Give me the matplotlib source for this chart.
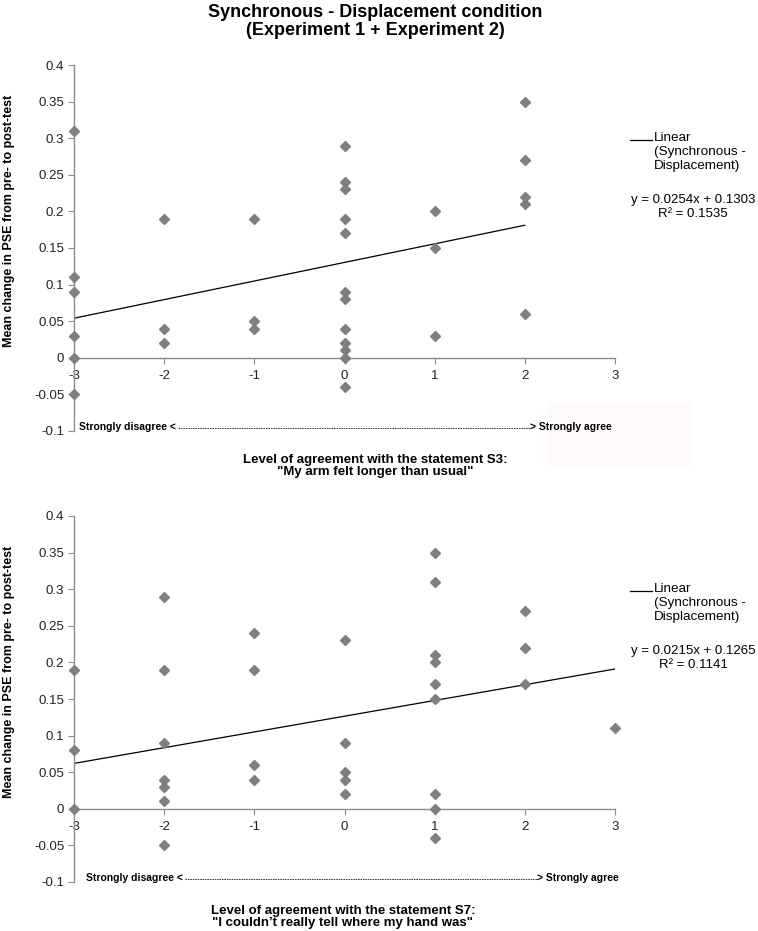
import numpy as np
import matplotlib
matplotlib.use('Agg')
import matplotlib.pyplot as plt
from matplotlib.lines import Line2D
from matplotlib.patches import Rectangle

plt.rcParams['font.family'] = ['Liberation Sans', 'DejaVu Sans']

# data
s3_x = [-3, -3, -3, -3, -3, -3,
        -2, -2, -2,
        -1, -1, -1,
        0, 0, 0, 0, 0, 0, 0, 0, 0, 0, 0, 0,
        1, 1, 1,
        2, 2, 2, 2, 2]
s3_y = [0.31, 0.11, 0.09, 0.03, 0.0, -0.05,
        0.19, 0.04, 0.02,
        0.19, 0.05, 0.04,
        0.29, 0.24, 0.23, 0.19, 0.17, 0.09, 0.08, 0.04, 0.02, 0.01, 0.0, -0.04,
        0.20, 0.15, 0.03,
        0.35, 0.27, 0.22, 0.21, 0.06]

s7_x = [-3, -3, -3,
        -2, -2, -2, -2, -2, -2, -2,
        -1, -1, -1, -1,
        0, 0, 0, 0, 0,
        1, 1, 1, 1, 1, 1, 1, 1, 1,
        2, 2, 2,
        3]
s7_y = [0.19, 0.08, 0.0,
        0.29, 0.19, 0.09, 0.04, 0.03, 0.01, -0.05,
        0.24, 0.19, 0.06, 0.04,
        0.23, 0.09, 0.05, 0.04, 0.02,
        0.35, 0.31, 0.21, 0.20, 0.17, 0.15, 0.02, 0.0, -0.04,
        0.27, 0.22, 0.17,
        0.11]

# trend lines as printed on the chart
s3_fit = (0.0254, 0.1303)
s7_fit = (0.0215, 0.1265)
s3_r2 = 0.1535
s7_r2 = 0.1141

x_ticks = [-3, -2, -1, 0, 1, 2, 3]
y_ticks = [-0.1, -0.05, 0, 0.05, 0.1, 0.15, 0.2, 0.25, 0.3, 0.35, 0.4]
y_tick_labels = ['-0.1', '-0.05', '0', '0.05', '0.1', '0.15', '0.2', '0.25', '0.3', '0.35', '0.4']

W, H = 758, 931
fig = plt.figure(figsize=(W / 100, H / 100), dpi=100)


def fx(x):
    return x / W


def fy(y):
    return 1 - y / H


grey = '#7f7f7f'
axis_grey = '#8c8c8c'


def draw_panel(top_px, xs, ys, fit, r2, statement, quote, xlab_cx, s_left, s_right):
    ax = fig.add_axes([fx(74), fy(top_px + 366), fx(541), 366 / H])
    ax.patch.set_visible(False)
    ax.set_xlim(-3, 3)
    ax.set_ylim(-0.1, 0.4)
    ax.plot(xs, ys, 'D', color=grey, markersize=4.6, clip_on=False, zorder=3)
    # trend line over the range of the data
    lx = np.array([min(xs), max(xs)])
    ax.plot(lx, fit[0] * lx + fit[1], color='black', lw=0.9, zorder=2)

    ax.spines['top'].set_visible(False)
    ax.spines['right'].set_visible(False)
    ax.spines['bottom'].set_position(('data', 0))
    for s in ['left', 'bottom']:
        ax.spines[s].set_color(axis_grey)
        ax.spines[s].set_linewidth(1.0)
    ax.set_xticks(x_ticks)
    ax.set_xticklabels([str(t) for t in x_ticks])
    ax.set_yticks(y_ticks)
    ax.set_yticklabels(y_tick_labels)
    ax.tick_params(axis='both', colors=axis_grey, labelcolor='#222222', labelsize=9.5, length=4)
    ax.tick_params(axis='x', pad=5)
    ax.tick_params(axis='y', pad=3)

    # agreement scale under the axis
    sy = top_px + 362
    fig.text(fx(s_left), fy(sy), 'Strongly disagree <', ha='left', va='center',
             fontsize=7.5, fontweight='bold')
    fig.text(fx(s_right), fy(sy), '> Strongly agree', ha='left', va='center',
             fontsize=7.5, fontweight='bold')
    fig.add_artist(Line2D([fx(s_left + 99), fx(s_right)], [fy(sy + 1), fy(sy + 1)],
                          color='#333333', lw=0.7, linestyle=(0, (1.6, 0.9)),
                          transform=fig.transFigure))

    fig.text(fx(9), fy(top_px + 156), 'Mean change in PSE from pre- to post-test',
             rotation=90, ha='center', va='center', fontsize=9, fontweight='bold')

    fig.text(fx(xlab_cx), fy(top_px + 401), statement + '\n' + quote,
             ha='center', va='center', fontsize=9.5, fontweight='bold', linespacing=1.05)

    # legend drawn by hand
    ly = top_px + 75
    fig.add_artist(Line2D([fx(630), fx(652)], [fy(ly), fy(ly)], color='black', lw=0.9,
                          transform=fig.transFigure))
    fig.text(fx(654), fy(ly - 8), 'Linear\n(Synchronous -\nDisplacement)',
             ha='left', va='top', fontsize=9.7, linespacing=1.2)
    fig.text(fx(693), fy(ly + 67), 'y = %.4fx + %.4f\nR\u00b2 = %.4f' % (fit[0], fit[1], r2),
             ha='center', va='center', fontsize=9.5, linespacing=1.15)
    return ax


# faint box behind "Strongly agree" in the top chart
fig.add_artist(Rectangle((fx(548), fy(467)), fx(144), 65 / H,
                         transform=fig.transFigure, color='#fffafa', zorder=0, lw=0))

fig.text(fx(375), fy(4), 'Synchronous - Displacement condition\n(Experiment 1 + Experiment 2)',
         ha='center', va='top', fontsize=13, fontweight='bold', linespacing=1.05)

draw_panel(65, s3_x, s3_y, s3_fit, s3_r2,
           'Level of agreement with the statement S3:', '"My arm felt longer than usual"',
           375, 79, 530)
draw_panel(516, s7_x, s7_y, s7_fit, s7_r2,
           'Level of agreement with the statement S7:', '"I couldn\u2019t really tell where my hand was"',
           343, 86, 537)

fig.savefig('out.png', dpi=100)
